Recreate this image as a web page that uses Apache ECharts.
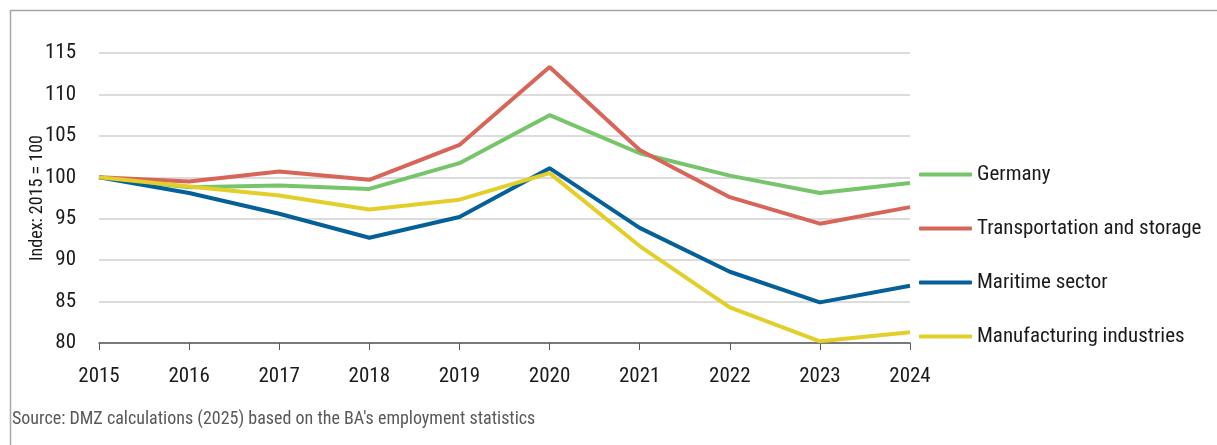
<!DOCTYPE html>
<html>
<head>
<meta charset="utf-8">
<script src="https://cdn.jsdelivr.net/npm/echarts@6/dist/echarts.min.js"></script>
<style>
  html, body { margin: 0; padding: 0; background: #fff; }
  #main { width: 1217px; height: 445px; }
</style>
</head>
<body>
<div id="main"></div>
<script>
// values (index 2015 = 100)
const years = ['2015', '2016', '2017', '2018', '2019', '2020', '2021', '2022', '2023', '2024']
const germany = [100, 98.8, 99.0, 98.6, 101.7, 107.5, 102.9, 100.2, 98.1, 99.3]
const transport = [100, 99.5, 100.7, 99.7, 103.9, 113.3, 103.3, 97.6, 94.4, 96.4]
const maritime = [100, 98.1, 95.6, 92.7, 95.2, 101.1, 93.9, 88.6, 84.9, 86.9]
const manufacturing = [100, 98.9, 97.8, 96.1, 97.3, 100.5, 91.7, 84.3, 80.2, 81.3]

const font = '"Roboto Condensed", "DejaVu Sans Condensed", sans-serif'

function line (name, data, color) {
  return {
    name: name,
    type: 'line',
    data: data,
    symbol: 'none',
    lineStyle: { color: color, width: 4 },
    itemStyle: { color: color }
  }
}

const chart = echarts.init(document.getElementById('main'))
chart.setOption({
  animation: false,
  textStyle: { fontFamily: font },
  graphic: [{
    type: 'rect',
    shape: { x: 10.5, y: 10.5, width: 1300, height: 500 },
    style: { fill: 'none', stroke: '#a6a6a6', lineWidth: 1.5 },
    silent: true
  }, {
    type: 'text',
    left: 12,
    top: 410,
    style: { text: "Source: DMZ calculations (2025) based on the BA's employment statistics", font: '18px ' + font, fill: '#595959' }
  }],
  grid: { left: 99, right: 307, top: 53, bottom: 102 },
  legend: {
    orient: 'vertical',
    left: 919,
    top: 164,
    padding: 0,
    itemWidth: 53,
    itemHeight: 4,
    itemGap: 33,
    icon: 'roundRect',
    textStyle: { fontFamily: font, fontSize: 21, color: '#1a1a1a', lineHeight: 21 },
    data: ['Germany', 'Transportation and storage', 'Maritime sector', 'Manufacturing industries']
  },
  xAxis: {
    type: 'category',
    data: years,
    boundaryGap: false,
    axisLine: { lineStyle: { color: '#595959', width: 1.5 } },
    axisTick: { show: true, length: 7, lineStyle: { color: '#595959' } },
    axisLabel: { color: '#1a1a1a', fontSize: 21, fontFamily: font, margin: 23 }
  },
  yAxis: {
    type: 'value',
    min: 80,
    max: 115,
    interval: 5,
    name: 'Index: 2015 = 100',
    nameLocation: 'middle',
    nameGap: 53,
    nameMoveOverlap: false,
    nameTextStyle: { color: '#1a1a1a', fontSize: 18, fontFamily: font },
    axisLine: { show: false },
    axisTick: { show: false },
    axisLabel: { color: '#1a1a1a', fontSize: 21, fontFamily: font, margin: 23 },
    splitLine: { lineStyle: { color: '#d0d0d0', width: 1.5 } }
  },
  series: [
    line('Germany', germany, '#77c56a'),
    line('Transportation and storage', transport, '#d8655a'),
    line('Maritime sector', maritime, '#055f98'),
    line('Manufacturing industries', manufacturing, '#e2cf29')
  ]
})
</script>
</body>
</html>
